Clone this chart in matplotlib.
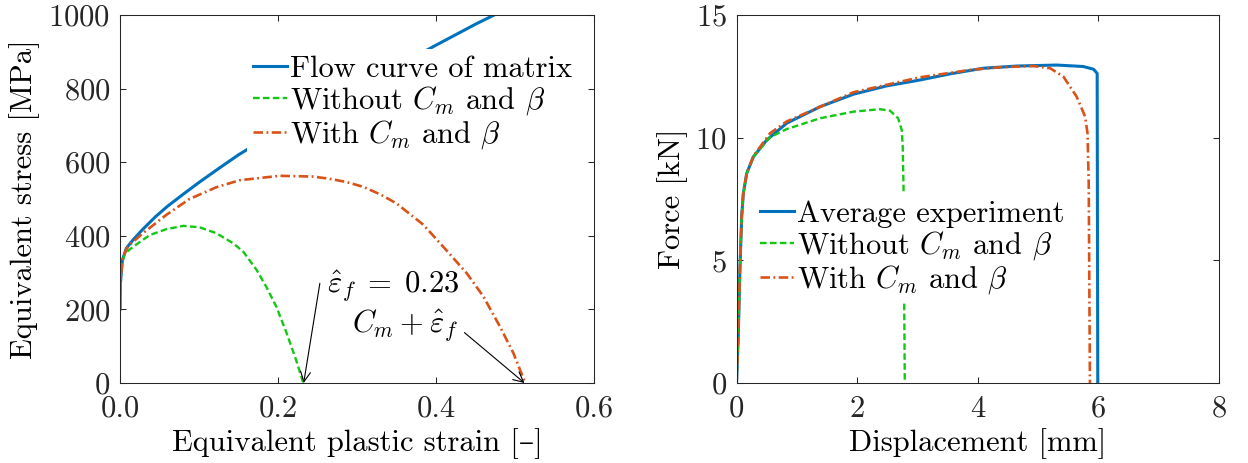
import numpy as np
import matplotlib
matplotlib.use("Agg")
import matplotlib.pyplot as plt

# equivalent plastic strain [-] vs equivalent stress [MPa]
strain_flow = [0.0, 0.0005, 0.003, 0.008, 0.0165, 0.029, 0.045, 0.06, 0.08, 0.1, 0.125, 0.15,
               0.175, 0.2, 0.25, 0.3, 0.35, 0.4, 0.45, 0.5]
stress_flow = [200, 271, 334, 366, 389, 418, 452, 480, 513, 545, 583, 620,
               653, 684, 744, 802, 860, 918, 975, 1028]

strain_no_cm = [0.0, 0.0005, 0.002, 0.006, 0.0165, 0.0376, 0.0587, 0.080, 0.101, 0.122, 0.143,
                0.156, 0.173, 0.185, 0.198, 0.211, 0.223, 0.232]
stress_no_cm = [200, 271, 320, 352, 370, 402, 418, 427, 423, 407, 380,
                357, 307, 262, 207, 135, 62, 0]

strain_cm = [0.0, 0.0005, 0.003, 0.008, 0.012, 0.029, 0.0587, 0.088, 0.122, 0.1515, 0.202, 0.244,
             0.265, 0.287, 0.308, 0.33, 0.350, 0.384, 0.413, 0.439, 0.460, 0.481, 0.498, 0.513]
stress_cm = [200, 271, 334, 364, 375, 407, 457, 500, 532, 551, 563, 561,
             555, 546, 533, 512, 488, 430, 361, 298, 235, 153, 81, 0]

# displacement [mm] vs force [kN]
disp_exp = [0.0, 0.003, 0.03, 0.058, 0.086, 0.113, 0.17, 0.28, 0.50, 0.832, 1.385, 1.937, 2.49,
            3.04, 3.54, 4.09, 4.65, 5.31, 5.75, 5.92, 5.98, 5.99]
force_exp = [0.0, 0.12, 2.0, 4.74, 6.78, 7.73, 8.55, 9.22, 9.90, 10.59, 11.26, 11.77, 12.11,
             12.35, 12.60, 12.83, 12.92, 12.96, 12.90, 12.79, 12.62, 0.0]

disp_no_cm = [0.0, 0.003, 0.03, 0.058, 0.086, 0.113, 0.17, 0.28, 0.556, 0.832, 1.385, 1.937, 2.38,
              2.545, 2.68, 2.74, 2.756, 2.77, 2.78, 2.79]
force_no_cm = [0.0, 0.12, 2.0, 4.74, 6.78, 7.73, 8.55, 9.22, 10.02, 10.35, 10.79, 11.06, 11.16,
               11.10, 10.79, 10.31, 9.63, 7.87, 3.5, 0.0]

disp_cm = [0.0, 0.003, 0.03, 0.058, 0.086, 0.113, 0.17, 0.28, 0.556, 0.832, 1.937, 3.04, 3.87,
           4.37, 4.92, 5.20, 5.42, 5.64, 5.78, 5.82, 5.84, 5.85, 5.86]
force_cm = [0.0, 0.12, 2.0, 4.74, 6.78, 7.73, 8.55, 9.25, 10.18, 10.66, 11.85, 12.46, 12.76,
            12.87, 12.92, 12.83, 12.49, 11.67, 10.86, 10.18, 8.14, 4.1, 0.0]

labels_left = ['Flow curve of matrix', r'Without $C_m$ and $\beta$', r'With $C_m$ and $\beta$']
labels_right = ['Average experiment', r'Without $C_m$ and $\beta$', r'With $C_m$ and $\beta$']

blue = '#0072BD'
green = '#12C812'
red = '#D95319'
dark = '#262626'

plt.rcParams['font.family'] = ['cmr10', 'DejaVu Serif']
plt.rcParams['mathtext.fontset'] = 'cm'
plt.rcParams['axes.formatter.use_mathtext'] = True
plt.rcParams['font.size'] = 22
plt.rcParams['xtick.direction'] = 'in'
plt.rcParams['ytick.direction'] = 'in'
plt.rcParams['xtick.top'] = True
plt.rcParams['ytick.right'] = True
plt.rcParams['xtick.major.size'] = 4
plt.rcParams['ytick.major.size'] = 4
plt.rcParams['xtick.major.width'] = 0.75
plt.rcParams['ytick.major.width'] = 0.75
plt.rcParams['xtick.major.pad'] = 9
plt.rcParams['ytick.major.pad'] = 7
plt.rcParams['axes.linewidth'] = 0.75
plt.rcParams['axes.edgecolor'] = dark
plt.rcParams['xtick.color'] = dark
plt.rcParams['ytick.color'] = dark

W, H = 1248, 463


def style_lines(ax, x1, y1, x2, y2, x3, y3):
  l1, = ax.plot(x1, y1, color=blue, lw=2.2)
  l2, = ax.plot(x2, y2, color=green, lw=1.7, dashes=(2.8, 1.4))
  l3, = ax.plot(x3, y3, color=red, lw=1.9, dashes=(3.6, 1.3, 0.7, 1.3))
  return l1, l2, l3


def add_legend(ax, handles, labels, anchor):
  ax.legend(handles, labels, loc='center left', bbox_to_anchor=anchor,
            frameon=True, fancybox=False, edgecolor='none', facecolor='white', framealpha=1,
            borderpad=0.2, borderaxespad=0, handlelength=1.1, handletextpad=0.1, labelspacing=0.05)


def main():
  fig = plt.figure(figsize=(W/100, H/100), dpi=100)

  # left: stress-strain
  ax = fig.add_axes([120/W, (H-383)/H, 474/W, 368/H])
  lines = style_lines(ax, strain_flow, stress_flow, strain_no_cm, stress_no_cm, strain_cm, stress_cm)
  ax.set_xlim(0, 0.6)
  ax.set_ylim(0, 1000)
  ax.set_xticks([0.0, 0.2, 0.4, 0.6])
  ax.set_xticklabels(['0.0', '0.2', '0.4', '0.6'])
  ax.set_yticks([0, 200, 400, 600, 800, 1000])
  ax.set_xlabel('Equivalent plastic strain [\u2013]', labelpad=4)
  ax.set_ylabel('Equivalent stress [MPa]', labelpad=6)
  add_legend(ax, lines, labels_left, (0.268, 0.760))

  arrow = dict(arrowstyle='->', color='black', lw=0.8, shrinkA=0, shrinkB=0, mutation_scale=18)
  ax.annotate('', xy=(0.2325, 0), xytext=(0.253, 271), arrowprops=arrow)
  ax.text(0.2617, 244, r'$\hat{\varepsilon}_f\;=\;0.23$', ha='left', va='baseline')
  ax.annotate('', xy=(0.512, 0), xytext=(0.436, 137), arrowprops=arrow)
  ax.text(0.294, 139, r'$C_m + \hat{\varepsilon}_f$', ha='left', va='baseline')

  # right: force-displacement
  ax2 = fig.add_axes([736.5/W, (H-383)/H, 482.5/W, 368/H])
  lines2 = style_lines(ax2, disp_exp, force_exp, disp_no_cm, force_no_cm, disp_cm, force_cm)
  ax2.set_xlim(0, 8)
  ax2.set_ylim(0, 15)
  ax2.set_xticks([0, 2, 4, 6, 8])
  ax2.set_yticks([0, 5, 10, 15])
  ax2.set_xlabel('Displacement [mm]', labelpad=4)
  ax2.set_ylabel('Force [kN]', labelpad=5)
  add_legend(ax2, lines2, labels_right, (0.037, 0.366))

  plt.savefig('out.png', dpi=100)


if __name__ == "__main__":
  main()
